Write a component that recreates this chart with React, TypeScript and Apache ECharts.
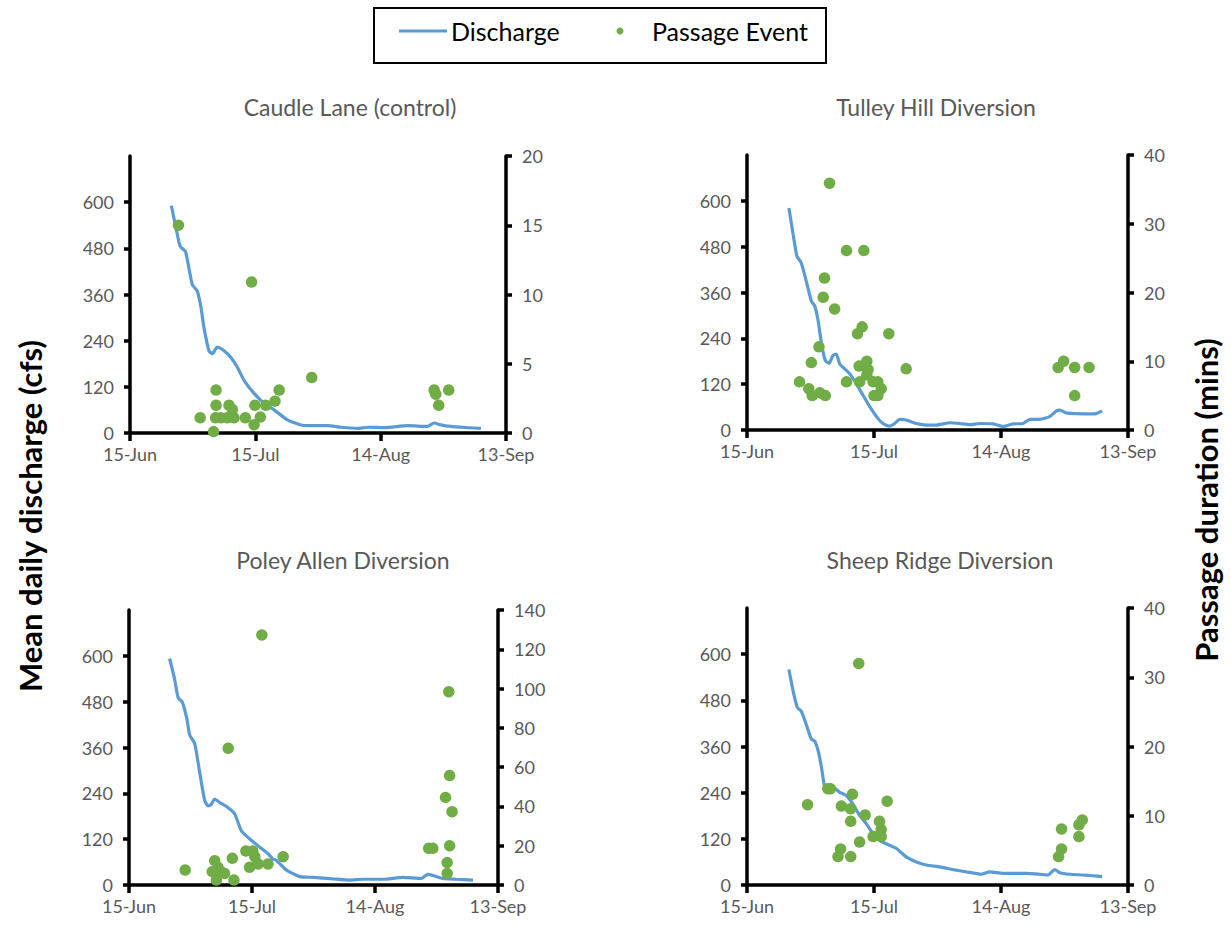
import React, { useEffect, useRef } from "react";
import * as echarts from "echarts";

// x values are days after 15-Jun
const xTickLabels: Record<number, string> = { 0: "15-Jun", 30: "15-Jul", 60: "14-Aug", 90: "13-Sep" };

const panelTitles = ["Caudle Lane (control)", "Tulley Hill Diversion", "Poley Allen Diversion", "Sheep Ridge Diversion"];
const rightAxisMax = [20, 40, 140, 40];
const rightAxisInterval = [5, 10, 20, 10];

// Panel 1: Caudle Lane
const caudleDays = [9.9, 11.7, 12.1, 13.3, 14.9, 16.1, 17, 17.7, 18.9, 19.7, 20.9, 22.5, 24.1, 25.7, 27.3, 29.7, 32.1, 34.5, 37.7, 40.9, 42.5, 47.3, 50.5, 54.5, 56.9, 60.9, 66.5, 71.2, 72.8, 74.4, 76.8, 80.8, 84];
const caudleFlow = [591, 497, 484, 471, 386, 369, 326, 274, 214, 206, 223, 214, 197, 171, 137, 103, 77, 60, 34, 21, 19, 19, 15, 12, 15, 14, 19, 17, 26, 21, 17, 14, 12];
const caudleEventDays = [11.6, 29.1, 43.5, 20.6, 35.7, 20.6, 23.7, 24.5, 16.8, 20.5, 21.7, 23.3, 24.9, 27.6, 20, 29.7, 29.9, 31.2, 32.5, 34.7, 72.8, 73.2, 73.9, 76.3];
const caudleEventMins = [15, 10.9, 4, 3.1, 3.1, 2, 2, 1.7, 1.1, 1.1, 1.1, 1.1, 1.1, 1.1, 0.1, 0.6, 2, 1.15, 2, 2.3, 3.1, 2.8, 2, 3.1];

// Panel 2: Tulley Hill
const tulleyDays = [9.9, 10.9, 11.8, 12.8, 14, 15.2, 16, 16.8, 17.6, 18.5, 19.4, 20.3, 21.1, 21.9, 23.1, 24.3, 25.8, 27.4, 29, 30.6, 32.1, 33.7, 34.9, 36.1, 37.6, 40, 42.4, 44.7, 47.9, 50.2, 52.6, 55, 58.1, 60.5, 62.8, 65.2, 66.8, 69.1, 71.5, 73.1, 73.9, 75.4, 77.8, 80.9, 82.5, 83.9];
const tulleyFlow = [581, 512, 455, 438, 390, 338, 325, 286, 226, 182, 175, 195, 199, 173, 160, 147, 121, 91, 61, 35, 17, 10, 17, 28, 26, 17, 13, 13, 19, 17, 14, 17, 16, 9, 16, 17, 28, 28, 35, 50, 52, 45, 43, 42, 43, 50];
const tulleyEventDays = [12.4, 14.6, 15.4, 17.2, 18.5, 15.2, 17, 18, 18.3, 19.5, 20.7, 23.5, 27.6, 23.5, 26.1, 27.2, 26.6, 26.5, 28.3, 28.6, 28.3, 29.8, 30.9, 31.7, 30, 30.9, 33.5, 37.6, 73.5, 74.8, 77.4, 77.4, 80.8];
const tulleyEventMins = [7, 6, 5, 5.4, 5, 9.8, 12.1, 19.3, 22.1, 35.9, 17.6, 26.1, 26.1, 7, 14, 15, 7, 9.3, 10, 8.8, 8, 7, 7, 6, 5, 5, 14, 8.9, 9.1, 10, 9.1, 5, 9.1];

// Panel 3: Poley Allen
const poleyDays = [9.9, 11.1, 12, 13, 14.1, 14.8, 16, 16.8, 17.6, 18.5, 19.3, 20.1, 20.9, 22.1, 24.1, 25.8, 27.4, 29.4, 31.9, 33.9, 35, 35.9, 38.4, 41.6, 44.9, 49.8, 53.8, 57.1, 62, 66.8, 71.3, 72.9, 74.1, 76.6, 79.8, 83.9];
const poleyFlow = [593, 540, 490, 479, 436, 393, 371, 324, 272, 220, 207, 212, 225, 216, 203, 186, 142, 121, 99, 82, 69, 65, 39, 22, 20, 16, 13, 15, 15, 20, 17, 28, 25, 17, 15, 13];
const poleyEventDays = [13.7, 20.9, 20.3, 21.7, 21.3, 22.5, 23.3, 24.2, 25.2, 25.6, 28.5, 30.2, 29.4, 30.7, 31.5, 32.4, 33.9, 37.6, 73.1, 74.1, 78, 78.2, 77.2, 78.8, 78.2, 77.6, 77.6];
const poleyEventMins = [7.6, 12.4, 6.8, 9, 2.5, 6.8, 5.9, 69.6, 13.6, 2.5, 17.3, 17.3, 9, 14.4, 10.7, 127.3, 10.7, 14.4, 18.7, 18.7, 98.4, 55.7, 44.6, 37.3, 20, 11.4, 5.9];

// Panel 4: Sheep Ridge
const sheepDays = [9.9, 10.9, 11.9, 12.8, 14, 15.2, 16, 16.8, 17.6, 18.3, 19.1, 20.3, 21.9, 23.5, 25, 26.6, 28.2, 29.8, 31.3, 33.7, 35.3, 37.6, 40, 42.4, 45.5, 48.7, 51.8, 55.4, 57.3, 60.5, 66, 69.1, 71.1, 72.7, 73.9, 76.2, 79.4, 81.7, 83.9];
const sheepFlow = [560, 504, 461, 452, 417, 379, 374, 349, 306, 258, 254, 254, 241, 232, 211, 181, 159, 133, 116, 103, 95, 73, 60, 52, 47, 40, 34, 28, 34, 30, 30, 28, 26, 40, 32, 28, 26, 24, 22];
const sheepEventDays = [14.3, 19.1, 19.7, 22.3, 24.9, 24.5, 24.5, 26.4, 27.9, 26.6, 22.1, 21.5, 24.5, 29.8, 31.3, 31.7, 31.7, 33.1, 74.3, 74.3, 73.6, 78.4, 78.4, 79.2];
const sheepEventMins = [11.6, 13.9, 13.9, 11.4, 13.1, 11, 9.2, 32, 10.1, 6.2, 5.2, 4.1, 4.1, 7, 9.2, 8, 7, 12.1, 8.1, 5.2, 4.1, 7, 8.7, 9.4];

const flowDays = [caudleDays, tulleyDays, poleyDays, sheepDays];
const flowValues = [caudleFlow, tulleyFlow, poleyFlow, sheepFlow];
const eventDays = [caudleEventDays, tulleyEventDays, poleyEventDays, sheepEventDays];
const eventMins = [caudleEventMins, tulleyEventMins, poleyEventMins, sheepEventMins];

const FONT = "Lato";
const LINE_COLOR = "#5B9BD5";
const DOT_COLOR = "#70AD47";
const LABEL_COLOR = "#595959";

const grids = [
  { left: 130, top: 156, width: 376, height: 277 },
  { left: 747, top: 155, width: 381, height: 275 },
  { left: 129, top: 610, width: 369, height: 275 },
  { left: 747, top: 608, width: 381, height: 277 },
];
const titlePos = [
  [350, 107],
  [936, 107],
  [343, 560],
  [940, 560],
];

export default function App() {
  const ref = useRef<HTMLDivElement>(null);
  useEffect(() => {
    document.body.style.margin = "0";
    const chart = echarts.init(ref.current!, undefined, { renderer: "svg" });
    const axisLine = { show: true, onZero: false, lineStyle: { color: "#000", width: 3.5 } };
    const axisTick = { show: true, length: 6, lineStyle: { color: "#000", width: 3.5 } };
    const xAxis: any[] = [];
    const yAxis: any[] = [];
    const series: any[] = [];
    const graphic: any[] = [];
    for (let i = 0; i < 4; i++) {
      xAxis.push({
        type: "value", gridIndex: i, min: 0, max: 90, interval: 30,
        axisLine, axisTick: { ...axisTick, length: 8 }, splitLine: { show: false },
        axisLabel: {
          margin: 12, color: LABEL_COLOR, fontFamily: FONT, fontSize: 18,
          formatter: (v: number) => xTickLabels[v] ?? "",
        },
      });
      yAxis.push({
        type: "value", gridIndex: i, min: 0, max: 720, interval: 120, position: "left",
        axisLine, axisTick, splitLine: { show: false },
        axisLabel: {
          margin: 16, color: LABEL_COLOR, fontFamily: FONT, fontSize: 18,
          showMaxLabel: false,
        },
      });
      yAxis.push({
        type: "value", gridIndex: i, min: 0, max: rightAxisMax[i], interval: rightAxisInterval[i], position: "right",
        axisLine, axisTick, splitLine: { show: false },
        axisLabel: { margin: 16, color: LABEL_COLOR, fontFamily: FONT, fontSize: 18 },
      });
      series.push({
        name: "Discharge", type: "line", xAxisIndex: i, yAxisIndex: 2 * i,
        symbol: "none", smooth: 0.2, lineStyle: { color: LINE_COLOR, width: 3.2 },
        data: flowDays[i].map((d, k) => [d, flowValues[i][k]]),
        z: 2,
      });
      series.push({
        name: "Passage Event", type: "scatter", xAxisIndex: i, yAxisIndex: 2 * i + 1,
        symbol: "circle", symbolSize: 11.5, itemStyle: { color: DOT_COLOR, opacity: 1 },
        data: eventDays[i].map((d, k) => [d, eventMins[i][k]]),
        z: 3,
      });
      graphic.push({
        type: "text", x: titlePos[i][0], y: titlePos[i][1],
        style: {
          text: panelTitles[i], fill: LABEL_COLOR, font: `23px ${FONT}`,
          textAlign: "center", textVerticalAlign: "middle",
        },
      });
    }
    // axis titles
    graphic.push({
      type: "text", x: 30, y: 516, rotation: Math.PI / 2,
      style: {
        text: "Mean daily discharge (cfs)", fill: "#000", font: `bold 31px ${FONT}`,
        textAlign: "center", textVerticalAlign: "middle",
      },
    });
    graphic.push({
      type: "text", x: 1206, y: 500, rotation: Math.PI / 2,
      style: {
        text: "Passage duration (mins)", fill: "#000", font: `bold 31px ${FONT}`,
        textAlign: "center", textVerticalAlign: "middle",
      },
    });
    // legend
    graphic.push({
      type: "rect", shape: { x: 374, y: 8, width: 452, height: 55 },
      style: { fill: "#fff", stroke: "#000", lineWidth: 2 },
    });
    graphic.push({
      type: "line", shape: { x1: 399, y1: 31, x2: 447, y2: 31 },
      style: { stroke: LINE_COLOR, lineWidth: 3 },
    });
    graphic.push({
      type: "text", x: 451, y: 31,
      style: { text: "Discharge", fill: "#000", font: `25px ${FONT}`, textAlign: "left", textVerticalAlign: "middle" },
    });
    graphic.push({
      type: "circle", shape: { cx: 620, cy: 31, r: 3.5 },
      style: { fill: DOT_COLOR },
    });
    graphic.push({
      type: "text", x: 652, y: 31,
      style: { text: "Passage Event", fill: "#000", font: `25px ${FONT}`, textAlign: "left", textVerticalAlign: "middle" },
    });

    chart.setOption({
      animation: false,
      backgroundColor: "#fff",
      textStyle: { fontFamily: FONT },
      grid: grids,
      xAxis,
      yAxis,
      series,
      graphic,
    });
    return () => chart.dispose();
  }, []);
  return <div ref={ref} style={{ width: 1231, height: 926 }} />;
}
